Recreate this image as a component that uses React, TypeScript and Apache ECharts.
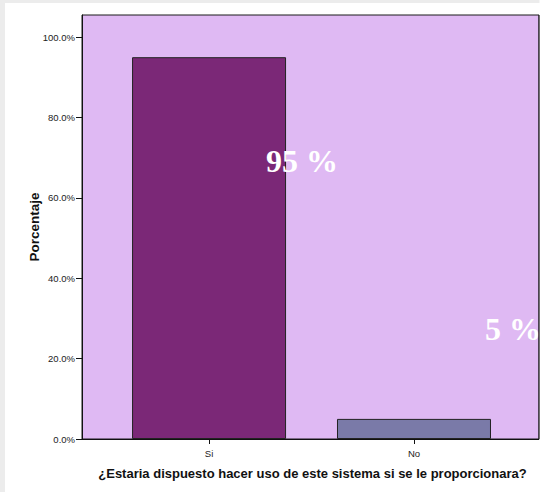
import React, { useEffect, useRef } from "react";
import * as echarts from "echarts";

// Survey answers and share of respondents (%)
const categories = ["Si", "No"];
const percentages = [95, 5];
const barColors = ["#7b2877", "#7a7aa8"];
const yTicks = [0, 20, 40, 60, 80, 100];

const xTitle = "¿Estaria dispuesto hacer uso de este sistema si se le proporcionara?";
const yTitle = "Porcentaje";

// Offset of each value label from the top-centre of its bar
const labelOffsets: [number, number][] = [
  [57, 104],
  [71, -90],
];

const sansFont = "Liberation Sans, Arial, sans-serif";

export default function App() {
  const ref = useRef<HTMLDivElement>(null);

  useEffect(() => {
    document.body.style.margin = "0";
    const chart = echarts.init(ref.current!, null, { renderer: "svg" });

    const frame: any[] = [
      { type: "rect", shape: { x: 0, y: 0, width: 543, height: 3 }, style: { fill: "#ececec" }, silent: true, z: -10 },
      { type: "rect", shape: { x: 0, y: 0, width: 5, height: 492 }, style: { fill: "#ececec" }, silent: true, z: -10 },
    ];

    const option: echarts.EChartsOption = {
      animation: false,
      backgroundColor: "#ffffff",
      graphic: frame,
      grid: {
        left: 82,
        top: 15,
        width: 457,
        height: 424,
        show: true,
        backgroundColor: "#dfb9f3",
        borderColor: "#1a1a1a",
        borderWidth: 1,
      },
      xAxis: {
        type: "value",
        min: -0.62,
        max: 1.61,
        name: xTitle,
        nameLocation: "middle",
        nameGap: 28,
        nameMoveOverlap: false,
        nameTextStyle: {
          fontFamily: sansFont,
          fontWeight: "bold",
          fontSize: 13,
          color: "#111",
          padding: [0, 0, 0, 4],
        },
        splitLine: { show: false },
        axisLine: { show: true, onZero: false, lineStyle: { color: "#111", width: 1 } },
        axisTick: {
          show: true,
          length: 5,
          customValues: [0, 1],
          lineStyle: { color: "#111" },
        },
        axisLabel: {
          customValues: [0, 1],
          margin: 9,
          fontFamily: sansFont,
          fontSize: 9.5,
          color: "#222",
          formatter: (v: number) => categories[Math.round(v)] ?? "",
        },
      },
      yAxis: {
        type: "value",
        min: 0,
        max: 105.5,
        name: yTitle,
        nameLocation: "middle",
        nameGap: 41,
        nameMoveOverlap: false,
        nameTextStyle: {
          fontFamily: sansFont,
          fontWeight: "bold",
          fontSize: 13.5,
          color: "#111",
        },
        splitLine: { show: false },
        axisLine: { show: true, onZero: false, lineStyle: { color: "#111", width: 1 } },
        axisTick: {
          show: true,
          length: 6,
          customValues: yTicks,
          lineStyle: { color: "#111" },
        },
        axisLabel: {
          customValues: yTicks,
          margin: 7,
          fontFamily: sansFont,
          fontSize: 9.5,
          color: "#222",
          formatter: (v: number) => v.toFixed(1) + "%",
        },
      },
      series: [
        {
          type: "bar",
          barWidth: 154,
          data: percentages.map((p, i) => ({
            value: [i, p],
            itemStyle: { color: barColors[i], borderColor: "#222", borderWidth: 1 },
          })),
        },
      ],
    } as any;

    chart.setOption(option);

    // Value labels, anchored to each bar's top through the axes' scales
    const labels: any[] = percentages.map((p, i) => {
      const [px, py] = chart.convertToPixel({ gridIndex: 0 }, [i, p]) as number[];
      return {
        type: "text",
        x: px + labelOffsets[i][0],
        y: py + labelOffsets[i][1],
        z: 100,
        silent: true,
        style: {
          text: `${p} %`,
          fill: "#ffffff",
          font: "bold 32px 'Liberation Serif', 'Times New Roman', serif",
          textAlign: "left",
          textVerticalAlign: "middle",
        },
      };
    });

    // Labels stop at the plot's right border
    const [rightEdge] = chart.convertToPixel({ gridIndex: 0 }, [1.61, 0]) as number[];
    const mask: any[] = [
      {
        type: "rect",
        shape: { x: rightEdge + 0.5, y: 0, width: 543 - rightEdge, height: 501 },
        style: { fill: "#ffffff" },
        silent: true,
        z: 101,
      },
      {
        type: "line",
        shape: { x1: rightEdge, y1: 15, x2: rightEdge, y2: 439 },
        style: { stroke: "#1a1a1a", lineWidth: 1 },
        silent: true,
        z: 102,
      },
    ];
    chart.setOption({ graphic: [...frame, ...labels, ...mask] });

    return () => chart.dispose();
  }, []);

  return (
    <div
      ref={ref}
      style={{ position: "fixed", left: 0, top: 0, width: 543, height: 501 }}
    />
  );
}
